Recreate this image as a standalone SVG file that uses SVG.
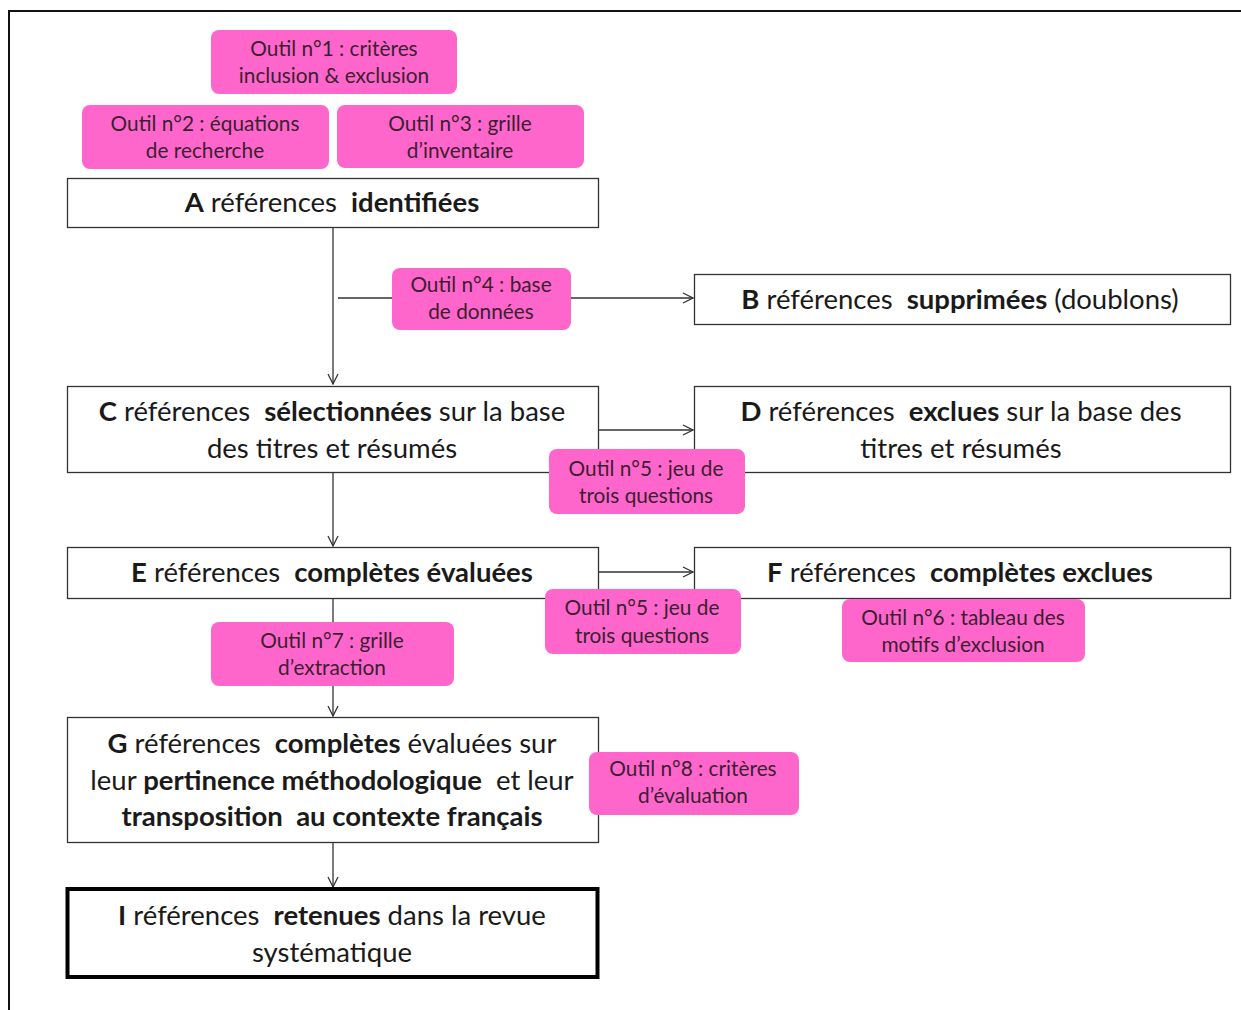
<svg xmlns="http://www.w3.org/2000/svg" width="1241" height="1010" viewBox="0 0 1241 1010">
<defs>
<style>
.tool{fill:#FF66CC;stroke:none}
.ttxt{font-family:Lato,"Liberation Sans",sans-serif;font-size:20.8px;fill:#3a2030;text-anchor:middle}
.box{fill:#fff;stroke:#333;stroke-width:1.3}
.btxt{font-family:Lato,"Liberation Sans",sans-serif;font-size:27.5px;fill:#1a1a1a;text-anchor:middle}
.b{font-weight:bold}
.conn{stroke:#333;stroke-width:1.3;fill:none}
</style>
<marker id="arr" viewBox="0 0 12 12" refX="11" refY="6" markerWidth="12" markerHeight="12" markerUnits="userSpaceOnUse" orient="auto">
<path d="M1,1 L11,6 L1,11" fill="none" stroke="#333" stroke-width="1.3"/>
</marker>
</defs>
<rect width="1241" height="1010" fill="#fff"/>
<path d="M9,1010 V11 H1241" fill="none" stroke="#111" stroke-width="2"/>

<g id="connectors">
<path class="conn" d="M333,227 V384" marker-end="url(#arr)"/>
<path class="conn" d="M338,298 H693" marker-end="url(#arr)"/>
<path class="conn" d="M598,430 H693" marker-end="url(#arr)"/>
<path class="conn" d="M333,472 V546" marker-end="url(#arr)"/>
<path class="conn" d="M598,572 H693" marker-end="url(#arr)"/>
<path class="conn" d="M333,598 V716" marker-end="url(#arr)"/>
<path class="conn" d="M333,842 V887" marker-end="url(#arr)"/>
</g>

<g id="nodeA"><rect class="box" x="67.5" y="178.5" width="531" height="49"/>
<text class="btxt" x="332" y="211.5"><tspan class="b">A</tspan> références&#160; <tspan class="b">identifiées</tspan></text></g>

<g id="nodeB"><rect class="box" x="694.5" y="274.5" width="536" height="50"/>
<text class="btxt" x="960" y="308.5"><tspan class="b">B</tspan> références&#160; <tspan class="b">supprimées</tspan> (doublons)</text></g>

<g id="nodeC"><rect class="box" x="67.5" y="386.5" width="531" height="86"/>
<text class="btxt" x="332" y="420.5"><tspan class="b">C</tspan> références&#160; <tspan class="b">sélectionnées</tspan> sur la base</text>
<text class="btxt" x="332" y="457.5">des titres et résumés</text></g>

<g id="nodeD"><rect class="box" x="694.5" y="386.5" width="536" height="86"/>
<text class="btxt" x="961" y="420.5"><tspan class="b">D</tspan> références&#160; <tspan class="b">exclues</tspan> sur la base des</text>
<text class="btxt" x="961" y="457.5">titres et résumés</text></g>

<g id="nodeE"><rect class="box" x="67.5" y="547.5" width="531" height="51"/>
<text class="btxt" x="332" y="581.5"><tspan class="b">E</tspan> références&#160; <tspan class="b">complètes évaluées</tspan></text></g>

<g id="nodeF"><rect class="box" x="694.5" y="547.5" width="536" height="51"/>
<text class="btxt" x="960" y="581.5"><tspan class="b">F</tspan> références&#160; <tspan class="b">complètes exclues</tspan></text></g>

<g id="nodeG"><rect class="box" x="67.5" y="717.5" width="531" height="125"/>
<text class="btxt" x="332" y="752.5"><tspan class="b">G</tspan> références&#160; <tspan class="b">complètes</tspan> évaluées sur</text>
<text class="btxt" x="332" y="789.5">leur <tspan class="b">pertinence méthodologique</tspan>&#160; et leur</text>
<text class="btxt" x="332" y="825.5"><tspan class="b">transposition&#160; au contexte français</tspan></text></g>

<g id="nodeI"><rect x="67.5" y="889" width="530" height="88" fill="#fff" stroke="#000" stroke-width="4"/>
<text class="btxt" x="332" y="924.5"><tspan class="b">I</tspan> références&#160; <tspan class="b">retenues</tspan> dans la revue</text>
<text class="btxt" x="332" y="961.5">systématique</text></g>

<g id="tool1"><rect class="tool" x="211" y="30" width="246" height="64" rx="8"/>
<text class="ttxt" x="334" y="56">Outil n°1 : critères</text>
<text class="ttxt" x="334" y="83">inclusion &amp; exclusion</text></g>

<g id="tool2"><rect class="tool" x="82" y="105" width="247" height="64" rx="8"/>
<text class="ttxt" x="205" y="131">Outil n°2 : équations</text>
<text class="ttxt" x="205" y="158">de recherche</text></g>

<g id="tool3"><rect class="tool" x="337" y="105" width="247" height="63" rx="8"/>
<text class="ttxt" x="460" y="131">Outil n°3 : grille</text>
<text class="ttxt" x="460" y="158">d’inventaire</text></g>

<g id="tool4"><rect class="tool" x="392" y="268" width="179" height="62" rx="8"/>
<text class="ttxt" x="481" y="292">Outil n°4 : base</text>
<text class="ttxt" x="481" y="319">de données</text></g>

<g id="tool5a"><rect class="tool" x="549" y="449" width="196" height="65" rx="8"/>
<text class="ttxt" x="646" y="476">Outil n°5 : jeu de</text>
<text class="ttxt" x="646" y="503">trois questions</text></g>

<g id="tool5b"><rect class="tool" x="545" y="589" width="196" height="65" rx="8"/>
<text class="ttxt" x="642" y="615">Outil n°5 : jeu de</text>
<text class="ttxt" x="642" y="643">trois questions</text></g>

<g id="tool6"><rect class="tool" x="842" y="599" width="243" height="63" rx="8"/>
<text class="ttxt" x="963" y="625">Outil n°6 : tableau des</text>
<text class="ttxt" x="963" y="652">motifs d’exclusion</text></g>

<g id="tool7"><rect class="tool" x="211" y="622" width="243" height="64" rx="8"/>
<text class="ttxt" x="332" y="648">Outil n°7 : grille</text>
<text class="ttxt" x="332" y="675">d’extraction</text></g>

<g id="tool8"><rect class="tool" x="589" y="752" width="210" height="63" rx="8"/>
<text class="ttxt" x="693" y="776">Outil n°8 : critères</text>
<text class="ttxt" x="693" y="803">d’évaluation</text></g>
</svg>
